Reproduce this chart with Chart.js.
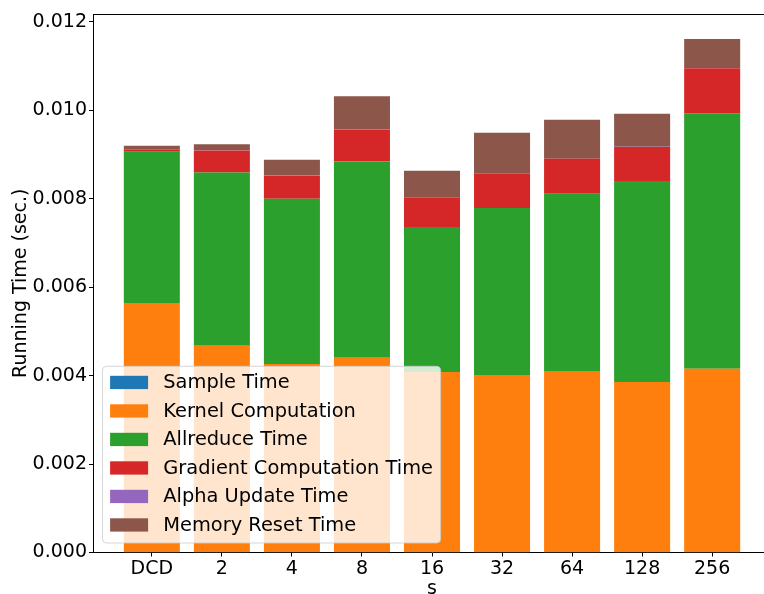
<!DOCTYPE html>
<html>
<head>
<meta charset="utf-8">
<title>Running time breakdown</title>
<script src="https://cdn.jsdelivr.net/npm/chart.js@4.4.0/dist/chart.umd.min.js"></script>
<style>
  html, body { margin: 0; padding: 0; background: #fff; }
  #wrap { width: 764px; height: 594px; overflow: hidden; }
  #chart { display: block; }
</style>
</head>
<body>
<div id="wrap"><canvas id="chart" width="780" height="594"></canvas></div>
<script>
// s values on the x axis
const sValues = ['DCD', '2', '4', '8', '16', '32', '64', '128', '256'];

// per-phase running time (sec.), stacked bottom to top
const sampleTime    = [0.000004, 0.000005, 0.000004, 0.000005, 0.000004, 0.000004, 0.000005, 0.000004, 0.000005];
const kernelTime    = [0.005640, 0.004670, 0.004260, 0.004400, 0.004080, 0.004010, 0.004100, 0.003850, 0.004150];
const allreduceTime = [0.003420, 0.003920, 0.003740, 0.004440, 0.003280, 0.003780, 0.004010, 0.004550, 0.005780];
const gradientTime  = [0.000045, 0.000500, 0.000520, 0.000725, 0.000660, 0.000770, 0.000790, 0.000770, 0.001020];
const alphaTime     = [0.000002, 0.000002, 0.000002, 0.000002, 0.000002, 0.000002, 0.000002, 0.000002, 0.000002];
const memResetTime  = [0.000090, 0.000135, 0.000360, 0.000750, 0.000610, 0.000930, 0.000880, 0.000750, 0.000660];

const yTicks = [0, 0.002, 0.004, 0.006, 0.008, 0.010, 0.012];

const FONT = '"DejaVu Sans", sans-serif';
const FS = 19;

function series(label, values, color) {
    return {
        label: label,
        data: values.map((v, i) => ({ x: i, y: v })),
        backgroundColor: color,
        borderWidth: 0,
        barPercentage: 0.8,
        categoryPercentage: 1.0
    };
}

// axes frame plus a matplotlib-style legend in the lower left corner
const frameAndLegend = {
    id: 'frameAndLegend',
    afterDatasetsDraw(chart) {
        const ctx = chart.ctx;
        const a = chart.chartArea;
        ctx.save();

        ctx.strokeStyle = '#000';
        ctx.lineWidth = 1;
        ctx.beginPath();
        const top = Math.round(a.top) + 0.5;
        ctx.moveTo(a.left, top);
        ctx.lineTo(a.right, top);
        ctx.lineTo(a.right, a.bottom);
        ctx.stroke();

        const sets = chart.data.datasets;
        const lfs = 19.4;
        ctx.font = lfs + 'px ' + FONT;
        const textW = Math.max(...sets.map(d => ctx.measureText(d.label).width));
        const pad = 0.4 * FS, handleW = 2 * FS, handleH = 0.7 * FS, gap = 0.8 * FS, rowH = 1.5 * FS;
        const w = pad + handleW + gap + textW + pad;
        const h = 2 * pad + sets.length * rowH - 0.5 * FS;
        const bx = a.left + 0.5 * FS;
        const by = a.bottom - 0.5 * FS - h;

        ctx.beginPath();
        ctx.roundRect(bx, by, w, h, 4);
        ctx.fillStyle = 'rgba(255,255,255,0.8)';
        ctx.fill();
        ctx.strokeStyle = 'rgba(204,204,204,0.8)';
        ctx.stroke();

        ctx.textBaseline = 'middle';
        ctx.textAlign = 'left';
        sets.forEach((d, i) => {
            const cy = by + pad + 0.45 * FS + i * rowH;
            ctx.fillStyle = d.backgroundColor;
            ctx.fillRect(bx + pad, cy - handleH / 2, handleW, handleH);
            ctx.fillStyle = '#000';
            ctx.fillText(d.label, bx + pad + handleW + gap, cy + 1);
        });
        ctx.restore();
    }
};

const tickFont = { family: FONT, size: FS };

new Chart(document.getElementById('chart'), {
    type: 'bar',
    data: {
        datasets: [
            series('Sample Time', sampleTime, '#1f77b4'),
            series('Kernel Computation', kernelTime, '#ff7f0e'),
            series('Allreduce Time', allreduceTime, '#2ca02c'),
            series('Gradient Computation Time', gradientTime, '#d62728'),
            series('Alpha Update Time', alphaTime, '#9467bd'),
            series('Memory Reset Time', memResetTime, '#8c564b')
        ]
    },
    options: {
        responsive: false,
        animation: false,
        layout: { padding: { top: 14, right: 9, left: 0, bottom: 0 } },
        plugins: {
            legend: { display: false },
            tooltip: { enabled: false }
        },
        scales: {
            x: {
                type: 'linear',
                stacked: true,
                offset: false,
                min: -0.84,
                max: 8.84,
                afterBuildTicks: s => { s.ticks = sValues.map((_, i) => ({ value: i })); },
                afterFit: s => { s.height = 41.5; },
                ticks: {
                    callback: v => sValues[v],
                    font: tickFont,
                    color: '#000',
                    padding: 1,
                    autoSkip: false,
                    maxRotation: 0
                },
                grid: { display: true, offset: false, drawOnChartArea: false, drawTicks: true, tickLength: 4, color: '#000' },
                border: { display: true, color: '#000', width: 1 },
                title: {
                    display: true,
                    text: 's',
                    font: tickFont,
                    color: '#000',
                    padding: { top: 0, bottom: -6 }
                }
            },
            y: {
                stacked: true,
                min: 0,
                max: 0.01218,
                afterBuildTicks: s => { s.ticks = yTicks.map(v => ({ value: v })); },
                afterFit: s => { s.width = 93; },
                ticks: {
                    callback: v => v.toFixed(3),
                    font: tickFont,
                    color: '#000',
                    padding: 2
                },
                grid: { display: true, drawOnChartArea: false, drawTicks: true, tickLength: 4, color: '#000' },
                border: { display: true, color: '#000', width: 1 },
                title: {
                    display: true,
                    text: 'Running Time (sec.)',
                    font: tickFont,
                    color: '#000',
                    padding: { top: 10, bottom: 0 }
                }
            }
        }
    },
    plugins: [frameAndLegend]
});
</script>
</body>
</html>
